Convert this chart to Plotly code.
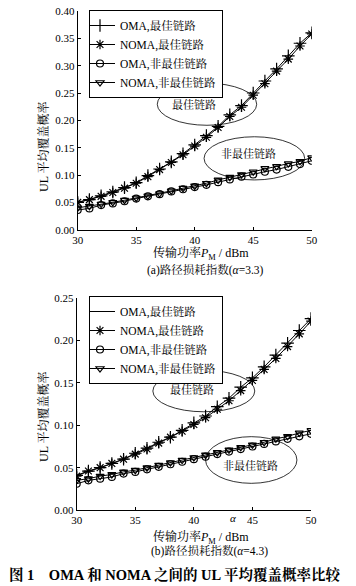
import plotly.graph_objects as go

x_power = list(range(30, 51))

# (a) alpha = 3.3
a_oma_best = [0.050, 0.055, 0.062, 0.069, 0.077, 0.086, 0.099, 0.111, 0.124, 0.139, 0.155, 0.172, 0.189, 0.210, 0.227, 0.250, 0.272, 0.294, 0.318, 0.341, 0.360]
a_noma_best = [0.050, 0.055, 0.061, 0.068, 0.076, 0.085, 0.097, 0.110, 0.123, 0.137, 0.153, 0.169, 0.187, 0.207, 0.224, 0.246, 0.267, 0.290, 0.312, 0.336, 0.358]
a_oma_non = [0.036, 0.039, 0.045, 0.048, 0.052, 0.057, 0.061, 0.065, 0.070, 0.074, 0.078, 0.082, 0.087, 0.092, 0.097, 0.101, 0.106, 0.110, 0.115, 0.120, 0.126]
a_noma_non = [0.040, 0.043, 0.047, 0.050, 0.054, 0.058, 0.062, 0.066, 0.071, 0.076, 0.080, 0.085, 0.091, 0.096, 0.101, 0.106, 0.112, 0.116, 0.121, 0.125, 0.132]

# (b) alpha = 4.3
b_oma_best = [0.041, 0.046, 0.050, 0.055, 0.060, 0.067, 0.073, 0.080, 0.086, 0.094, 0.103, 0.111, 0.122, 0.132, 0.145, 0.156, 0.169, 0.183, 0.197, 0.212, 0.226]
b_noma_best = [0.040, 0.046, 0.050, 0.055, 0.060, 0.066, 0.072, 0.079, 0.086, 0.093, 0.101, 0.109, 0.119, 0.129, 0.141, 0.153, 0.166, 0.179, 0.193, 0.208, 0.223]
b_oma_non = [0.031, 0.035, 0.037, 0.039, 0.043, 0.045, 0.048, 0.051, 0.054, 0.057, 0.060, 0.063, 0.066, 0.069, 0.072, 0.075, 0.078, 0.081, 0.084, 0.087, 0.090]
b_noma_non = [0.035, 0.037, 0.040, 0.042, 0.045, 0.047, 0.050, 0.053, 0.056, 0.059, 0.062, 0.065, 0.068, 0.071, 0.074, 0.077, 0.080, 0.084, 0.087, 0.091, 0.094]

names = ["OMA,最佳链路", "NOMA,最佳链路", "OMA,非最佳链路", "NOMA,非最佳链路"]
a_ticks = [0.00, 0.05, 0.10, 0.15, 0.20, 0.25, 0.30, 0.35, 0.40]
b_ticks = [0.00, 0.05, 0.10, 0.15, 0.20, 0.25]
x_ticks = [30, 35, 40, 45, 50]

FONT = "Liberation Serif, Times New Roman, Noto Serif CJK SC, Noto Sans CJK SC, serif"
BLK = "black"

symbols = ["cross-thin-open", "asterisk-open", "circle-open", "triangle-down-open"]
sizes = [9, 8, 7, 7]

fig = go.Figure()

def add_series(ys, xa, ya, legend, hide_first=False):
    for i, y in enumerate(ys):
        fig.add_trace(go.Scatter(
            x=x_power, y=y, mode="lines+markers", name=names[i],
            xaxis=xa, yaxis=ya, legend=legend,
            showlegend=not (hide_first and i == 0),
            line=dict(color=BLK, width=1),
            marker=dict(symbol=symbols[i], size=sizes[i], color=BLK,
                        line=dict(color=BLK, width=1.2)),
        ))

add_series([a_oma_best, a_noma_best, a_oma_non, a_noma_non], "x", "y", "legend")
# legend entry for (b) OMA best is line only
fig.add_trace(go.Scatter(x=[None], y=[None], mode="lines", name=names[0],
                         xaxis="x2", yaxis="y2", legend="legend2",
                         line=dict(color=BLK, width=1)))
add_series([b_oma_best, b_noma_best, b_oma_non, b_noma_non], "x2", "y2", "legend2", hide_first=True)

W, H = 356, 586
def px(x): return x / W
def py(y): return 1 - y / H

axis_common = dict(showline=True, linecolor=BLK, linewidth=1, ticks="inside",
                   ticklen=3, tickcolor=BLK, showgrid=False, zeroline=False,
                   automargin=False,
                   tickfont=dict(family=FONT, size=11, color=BLK), mirror=False)

leg_common = dict(xanchor="left", yanchor="top", bgcolor="white", bordercolor=BLK,
                  borderwidth=1, font=dict(family=FONT, size=11.5, color=BLK),
                  tracegroupgap=0, itemwidth=30, indentation=-10)

fig.update_layout(
    width=W, height=H, margin=dict(l=0, r=0, t=0, b=0, pad=0, autoexpand=False),
    paper_bgcolor="white", plot_bgcolor="white",
    font=dict(family=FONT, color=BLK, size=11),
    xaxis=dict(domain=[px(77.7), px(311.7)], range=[30, 50], tickvals=x_ticks,
               anchor="y", **axis_common),
    yaxis=dict(domain=[py(229.7), py(11)], range=[0, 0.40], tickvals=a_ticks,
               ticktext=[f"{v:.2f}" for v in a_ticks], anchor="x", **axis_common),
    xaxis2=dict(domain=[px(76.7), px(311)], range=[30, 50], tickvals=x_ticks,
                anchor="y2", **axis_common),
    yaxis2=dict(domain=[py(510), py(298.3)], range=[0, 0.25], tickvals=b_ticks,
                ticktext=[f"{v:.2f}" for v in b_ticks], anchor="x2", **axis_common),
    legend=dict(x=px(89), y=py(10), **leg_common),
    legend2=dict(x=px(89), y=py(296), **leg_common),
    showlegend=True,
)

# ellipses
fig.add_shape(type="circle", xref="x", yref="y", x0=36.8, x1=45.3, y0=0.191, y1=0.268,
              line=dict(color=BLK, width=0.8), layer="below")
fig.add_shape(type="circle", xref="x", yref="y", x0=40.8, x1=49.4, y0=0.091, y1=0.170,
              line=dict(color=BLK, width=0.8), layer="below")
fig.add_shape(type="circle", xref="x2", yref="y2", x0=36.5, x1=45.2, y0=0.116, y1=0.165,
              line=dict(color=BLK, width=0.8), layer="below")
fig.add_shape(type="circle", xref="x2", yref="y2", x0=41.0, x1=48.8, y0=0.0315, y1=0.0866,
              line=dict(color=BLK, width=0.8), layer="below")

ann_font = dict(family=FONT, size=11, color=BLK)
fig.add_annotation(x=39.9, y=0.229, xref="x", yref="y", text="最佳链路", showarrow=False, font=ann_font)
fig.add_annotation(x=44.6, y=0.140, xref="x", yref="y", text="非最佳链路", showarrow=False, font=ann_font)
fig.add_annotation(x=39.8, y=0.142, xref="x2", yref="y2", text="最佳链路", showarrow=False, font=ann_font)
fig.add_annotation(x=44.8, y=0.052, xref="x2", yref="y2", text="非最佳链路", showarrow=False, font=ann_font)

# axis titles & captions (explicit anchors)
def pann(x, y, text, size=11, angle=0):
    fig.add_annotation(x=px(x), y=py(y), xref="paper", yref="paper", text=text,
                       xanchor="center", yanchor="middle", textangle=angle,
                       showarrow=False, font=dict(family=FONT, size=size, color=BLK))

pann(43, 147, "UL 平均覆盖概率", 12, -90)
pann(43, 417, "UL 平均覆盖概率", 12, -90)
xtitle = "传输功率<i>P</i><sub>M</sub> / dBm"
pann(201, 253, xtitle, 12)
pann(201, 537, xtitle, 12)
pann(205, 270, "(a)路径损耗指数(<i>α</i>=3.3)", 11.5)
pann(209, 551, "(b)路径损耗指数(<i>α</i>=4.3)", 11.5)
pann(233, 518, "<i>α</i>", 11)
pann(175, 574, "<b>图 1    OMA 和 NOMA 之间的 UL 平均覆盖概率比较</b>", 14.5)

fig.write_html("out.html", config={"displayModeBar": False},
               post_script="document.body.style.margin='0';")
